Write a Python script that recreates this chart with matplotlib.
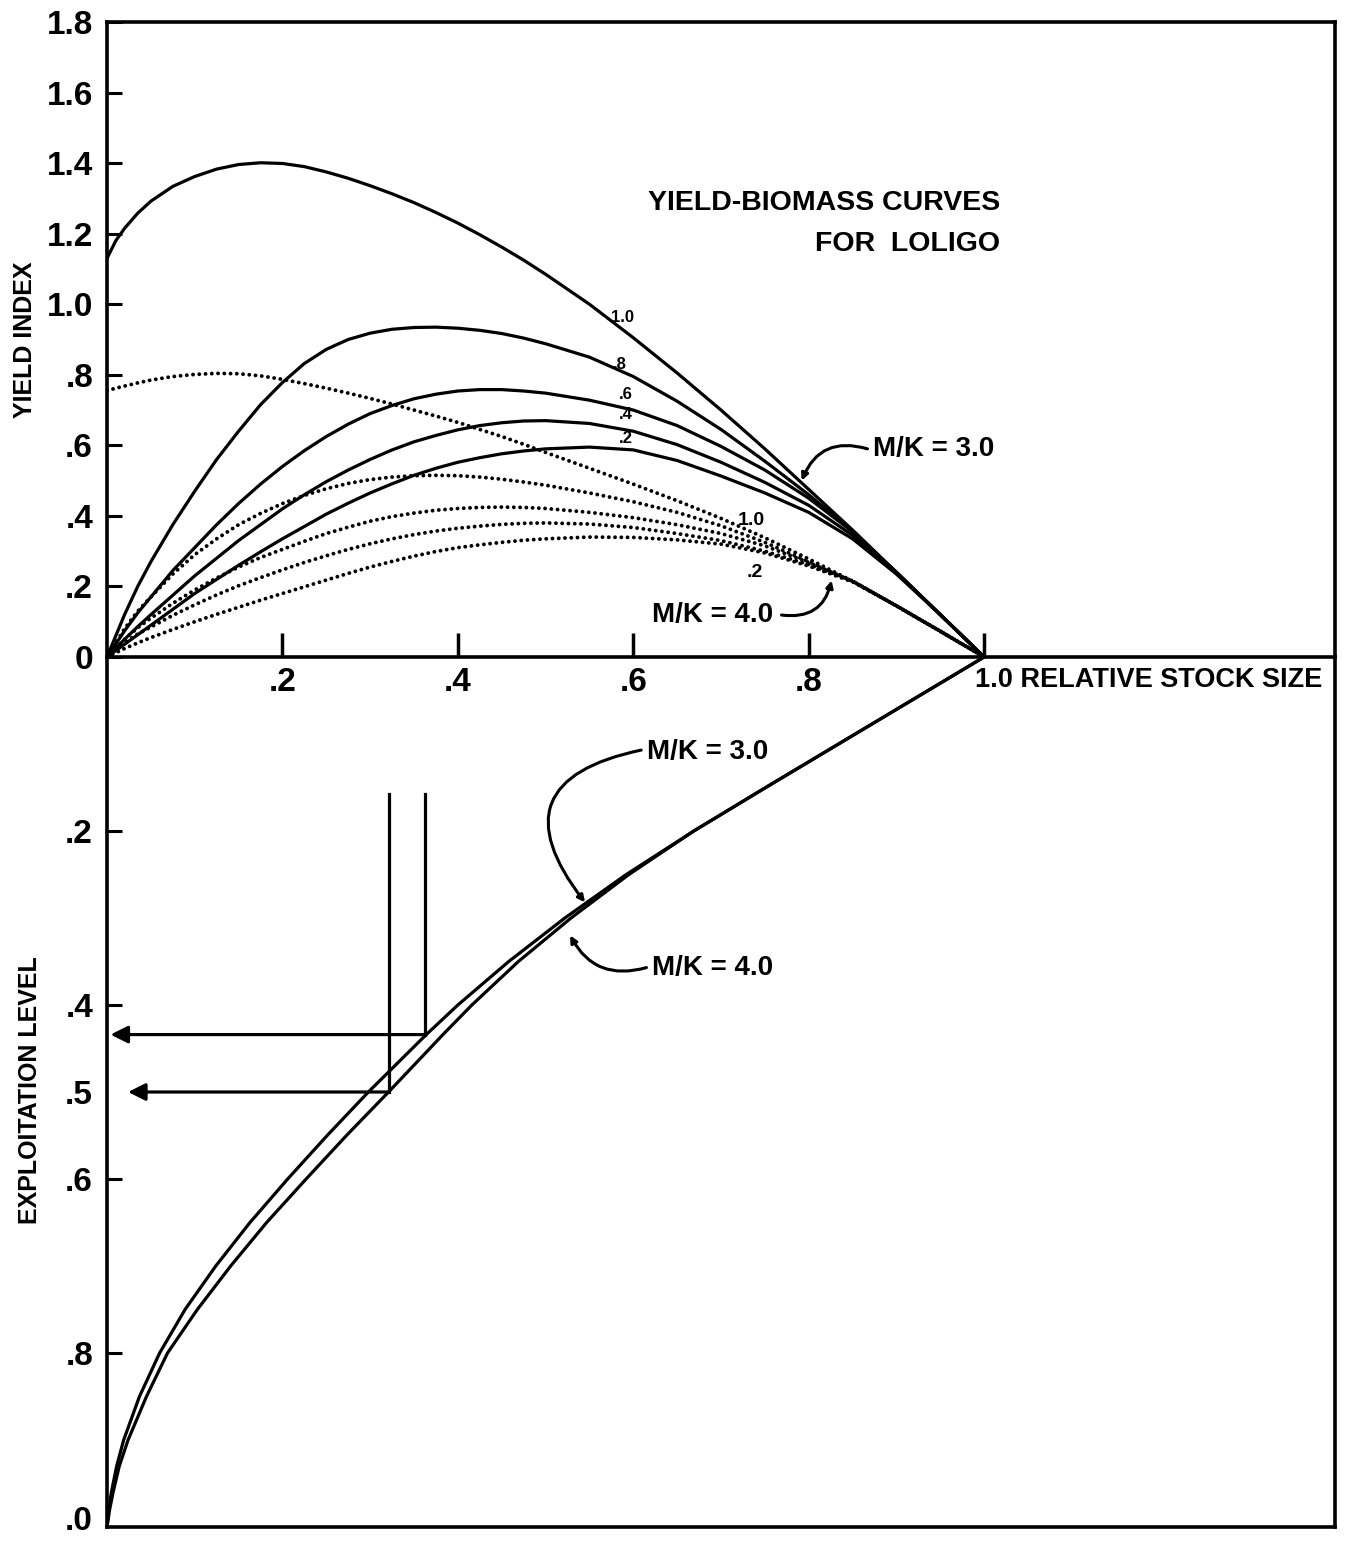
import matplotlib
matplotlib.use("Agg")
import matplotlib.pyplot as plt
import matplotlib.transforms as mtransforms

plt.rcParams['font.family'] = ['Liberation Sans', 'DejaVu Sans']

# ---------------- data ----------------
# relative stock size grid for the yield curves
stock_x = [0, 0.01, 0.02, 0.035, 0.05, 0.075, 0.10, 0.125, 0.15, 0.175, 0.20,
           0.225, 0.25, 0.275, 0.30, 0.325, 0.35, 0.375, 0.40, 0.425, 0.45,
           0.475, 0.50, 0.55, 0.60, 0.65, 0.70, 0.75, 0.80, 0.85, 0.90, 0.95, 1.00]

# M/K = 3.0 (solid) yield index curves
mk3_10 = [1.13, 1.18, 1.215, 1.258, 1.292, 1.334, 1.362, 1.383, 1.396, 1.401, 1.399,
          1.39, 1.375, 1.357, 1.336, 1.313, 1.288, 1.26, 1.23, 1.197, 1.162,
          1.125, 1.085, 1.0, 0.905, 0.805, 0.70, 0.59, 0.475, 0.36, 0.24, 0.12, 0]
mk3_08 = [0, 0.06, 0.12, 0.20, 0.27, 0.375, 0.47, 0.56, 0.64, 0.715, 0.778,
          0.832, 0.872, 0.90, 0.918, 0.929, 0.934, 0.935, 0.932, 0.926, 0.917,
          0.904, 0.888, 0.85, 0.795, 0.725, 0.645, 0.555, 0.46, 0.355, 0.24, 0.12, 0]
mk3_06 = [0, 0.037, 0.074, 0.125, 0.17, 0.245, 0.31, 0.375, 0.435, 0.49, 0.54,
          0.585, 0.625, 0.66, 0.69, 0.713, 0.732, 0.745, 0.754, 0.758, 0.758,
          0.754, 0.748, 0.728, 0.70, 0.656, 0.597, 0.53, 0.45, 0.355, 0.24, 0.12, 0]
mk3_04 = [0, 0.025, 0.05, 0.086, 0.12, 0.175, 0.23, 0.28, 0.33, 0.375, 0.42,
          0.46, 0.497, 0.53, 0.56, 0.587, 0.61, 0.628, 0.644, 0.656, 0.664,
          0.669, 0.67, 0.662, 0.64, 0.602, 0.552, 0.495, 0.43, 0.345, 0.24, 0.12, 0]
mk3_02 = [0, 0.018, 0.036, 0.063, 0.09, 0.135, 0.18, 0.22, 0.26, 0.298, 0.335,
          0.37, 0.405, 0.436, 0.465, 0.491, 0.515, 0.535, 0.552, 0.565, 0.576,
          0.584, 0.59, 0.595, 0.587, 0.557, 0.513, 0.465, 0.41, 0.335, 0.235, 0.12, 0]

# M/K = 4.0 (dotted) yield index curves
mk4_10 = [0.755, 0.762, 0.768, 0.777, 0.785, 0.795, 0.801, 0.804, 0.803, 0.797, 0.787,
          0.775, 0.762, 0.748, 0.733, 0.717, 0.70, 0.683, 0.665, 0.645, 0.625,
          0.603, 0.58, 0.535, 0.49, 0.443, 0.393, 0.338, 0.278, 0.215, 0.145, 0.073, 0]
mk4_08 = [0, 0.04, 0.08, 0.13, 0.17, 0.235, 0.29, 0.335, 0.375, 0.407, 0.435,
          0.458, 0.477, 0.492, 0.503, 0.51, 0.514, 0.515, 0.514, 0.51, 0.504,
          0.496, 0.487, 0.465, 0.44, 0.41, 0.372, 0.325, 0.27, 0.215, 0.145, 0.073, 0]
mk4_06 = [0, 0.025, 0.05, 0.083, 0.11, 0.152, 0.19, 0.224, 0.255, 0.282, 0.305,
          0.328, 0.35, 0.368, 0.385, 0.398, 0.408, 0.416, 0.421, 0.424, 0.425,
          0.424, 0.421, 0.41, 0.395, 0.375, 0.35, 0.315, 0.268, 0.215, 0.145, 0.073, 0]
mk4_04 = [0, 0.02, 0.04, 0.065, 0.085, 0.118, 0.148, 0.176, 0.202, 0.225, 0.247,
          0.268, 0.287, 0.305, 0.321, 0.335, 0.347, 0.357, 0.365, 0.371, 0.376,
          0.379, 0.38, 0.377, 0.367, 0.35, 0.33, 0.30, 0.262, 0.215, 0.145, 0.073, 0]
mk4_02 = [0, 0.012, 0.024, 0.04, 0.055, 0.078, 0.10, 0.121, 0.141, 0.161, 0.18,
          0.199, 0.218, 0.237, 0.255, 0.271, 0.286, 0.299, 0.31, 0.318, 0.325,
          0.331, 0.335, 0.34, 0.339, 0.332, 0.32, 0.295, 0.258, 0.213, 0.145, 0.073, 0]

# exploitation level vs relative stock size (lower panel)
expl_level = [0, 0.05, 0.10, 0.15, 0.20, 0.25, 0.30, 0.35, 0.40, 0.434, 0.45, 0.50,
              0.55, 0.60, 0.65, 0.70, 0.75, 0.80, 0.85, 0.90, 0.93, 0.96, 0.98, 1.00]
stock_mk3 = [1.0, 0.917, 0.834, 0.751, 0.669, 0.592, 0.522, 0.458, 0.40, 0.364, 0.348, 0.298,
             0.251, 0.206, 0.163, 0.124, 0.089, 0.06, 0.037, 0.019, 0.011, 0.005, 0.002, 0.0]
stock_mk4 = [1.0, 0.917, 0.834, 0.751, 0.669, 0.595, 0.529, 0.469, 0.416, 0.383, 0.368, 0.321,
             0.273, 0.227, 0.182, 0.141, 0.103, 0.069, 0.045, 0.024, 0.014, 0.007, 0.003, 0.0]

# read-off construction lines (lower panel)
readoff_levels = [0.434, 0.50]
readoff_stock = [0.362, 0.321]
readoff_top = 0.158
arrow_tip = [0.004, 0.024]

top_yticks = [0, 0.2, 0.4, 0.6, 0.8, 1.0, 1.2, 1.4, 1.6, 1.8]
top_yticklabels = ['0', '.2', '.4', '.6', '.8', '1.0', '1.2', '1.4', '1.6', '1.8']
xticks = [0.2, 0.4, 0.6, 0.8, 1.0]
xticklabels = ['.2', '.4', '.6', '.8', '1.0 RELATIVE STOCK SIZE']
bot_yticks = [0.2, 0.4, 0.5, 0.6, 0.8, 1.0]
bot_yticklabels = ['.2', '.4', '.5', '.6', '.8', '.0']

# ---------------- figure ----------------
W, H = 1350, 1541
fig = plt.figure(figsize=(W / 100, H / 100), dpi=100)
L, R = 107 / W, 1335 / W
y_mid = 1 - 657 / H
y_top = 1 - 22 / H
y_bot = 1 - 1527 / H
axb = fig.add_axes([L, y_bot, R - L, y_mid - y_bot])
ax = fig.add_axes([L, y_mid, R - L, y_top - y_mid])
ax.set_zorder(3)
ax.patch.set_visible(False)

lw_curve = 2.3
tick_fs = 24
ann_fs = 20

# ---- top panel ----
for ys in [mk3_10, mk3_08, mk3_06, mk3_04, mk3_02]:
    ax.plot(stock_x, ys, color='black', lw=lw_curve, solid_capstyle='round',
            solid_joinstyle='round', zorder=3)
for ys in [mk4_10, mk4_08, mk4_06, mk4_04, mk4_02]:
    ax.plot(stock_x, ys, color='black', lw=2.8, linestyle=(0, (0.01, 1.6)),
            dash_capstyle='round', zorder=3)

ax.set_xlim(0, 1.4)
ax.set_ylim(0, 1.8)
ax.set_yticks(top_yticks)
ax.set_yticklabels(top_yticklabels, fontsize=tick_fs, fontweight='bold')
ax.set_xticks(xticks)
ax.set_xticklabels(xticklabels[:-1] + [''], fontsize=tick_fs, fontweight='bold')
ax.tick_params(axis='y', direction='in', length=11, width=2.2, pad=10)
ax.tick_params(axis='x', direction='in', length=17, width=2.5, pad=7)
for sp in ax.spines.values():
    sp.set_linewidth(2.6)

offset = mtransforms.ScaledTranslation(-9 / 100, -10 / 100, fig.dpi_scale_trans)
ax.text(xticks[-1], 0, xticklabels[-1], transform=ax.transData + offset,
        fontsize=19.5, fontweight='bold', ha='left', va='top', clip_on=False)

# curve labels
lab_kw = dict(fontsize=12, fontweight='bold', ha='center', va='center')
ax.text(0.588, 0.962, '1.0', **lab_kw)
ax.text(0.585, 0.828, '.8', **lab_kw)
ax.text(0.592, 0.743, '.6', **lab_kw)
ax.text(0.592, 0.688, '.4', **lab_kw)
ax.text(0.592, 0.62, '.2', **lab_kw)
ax.text(0.735, 0.388, '1.0', fontsize=14, fontweight='bold', ha='center', va='center')
ax.text(0.738, 0.24, '.2', fontsize=14, fontweight='bold', ha='center', va='center')

ax.text(1.018, 1.287, 'YIELD-BIOMASS CURVES', fontsize=20.5, fontweight='bold', ha='right', va='center')
ax.text(1.018, 1.170, 'FOR  LOLIGO', fontsize=20.5, fontweight='bold', ha='right', va='center')

conn_kw = dict(arrowstyle='-|>', lw=2.2, color='black', mutation_scale=10, shrinkA=0, shrinkB=0)
ax.text(0.873, 0.59, 'M/K = 3.0', fontsize=ann_fs, fontweight='bold', ha='left', va='center')
ax.annotate('', xy=(0.792, 0.50), xytext=(0.867, 0.59),
            arrowprops=dict(connectionstyle='arc3,rad=0.45', **conn_kw))
ax.text(0.621, 0.119, 'M/K = 4.0', fontsize=ann_fs, fontweight='bold', ha='left', va='center')
ax.annotate('', xy=(0.826, 0.217), xytext=(0.769, 0.119),
            arrowprops=dict(connectionstyle='arc3,rad=0.45', **conn_kw))

# ---- bottom panel ----
axb.plot(stock_mk3, expl_level, color='black', lw=lw_curve, solid_joinstyle='round', zorder=3)
axb.plot(stock_mk4, expl_level, color='black', lw=lw_curve, solid_joinstyle='round', zorder=3)
for lev, st, tip in zip(readoff_levels, readoff_stock, arrow_tip):
    axb.plot([st, st], [readoff_top, lev], color='black', lw=2.3)
    axb.annotate('', xy=(tip, lev), xytext=(st, lev),
                 arrowprops=dict(arrowstyle='-|>', lw=2.3, color='black', mutation_scale=26,
                                 shrinkA=0, shrinkB=0))

axb.set_xlim(0, 1.4)
axb.set_ylim(1.0, 0)
axb.set_xticks([])
axb.set_yticks(bot_yticks)
axb.set_yticklabels(bot_yticklabels[:-1] + [''], fontsize=tick_fs, fontweight='bold')
axb.tick_params(axis='y', direction='in', length=11, width=2.2, pad=10)
for i, t in enumerate(axb.yaxis.get_major_ticks()):
    if bot_yticks[i] in (0.5, 1.0):
        t.tick1line.set_visible(False)
for sp in axb.spines.values():
    sp.set_linewidth(2.6)
axb.spines['top'].set_visible(False)
# bottom-most label, nudged up slightly so it stays inside the canvas
off0 = mtransforms.ScaledTranslation(-14 / 100, 5 / 100, fig.dpi_scale_trans)
axb.text(0, bot_yticks[-1], bot_yticklabels[-1], transform=axb.get_yaxis_transform() + off0,
         fontsize=tick_fs, fontweight='bold', ha='right', va='center', clip_on=False)

axb.text(0.616, 0.109, 'M/K = 3.0', fontsize=ann_fs, fontweight='bold', ha='left', va='center')
axb.annotate('', xy=(0.545, 0.282), xytext=(0.609, 0.107),
             arrowprops=dict(connectionstyle='arc3,rad=0.8', **conn_kw))
axb.text(0.621, 0.357, 'M/K = 4.0', fontsize=ann_fs, fontweight='bold', ha='left', va='center')
axb.annotate('', xy=(0.528, 0.32), xytext=(0.615, 0.357),
             arrowprops=dict(connectionstyle='arc3,rad=-0.4', **conn_kw))

fig.text(25 / W, 1 - 340 / H, 'YIELD INDEX', rotation=90, fontsize=18, fontweight='bold',
         ha='center', va='center')
fig.text(30 / W, 1 - 1090 / H, 'EXPLOITATION LEVEL', rotation=90, fontsize=18, fontweight='bold',
         ha='center', va='center')

fig.savefig('out.png', dpi=100)
